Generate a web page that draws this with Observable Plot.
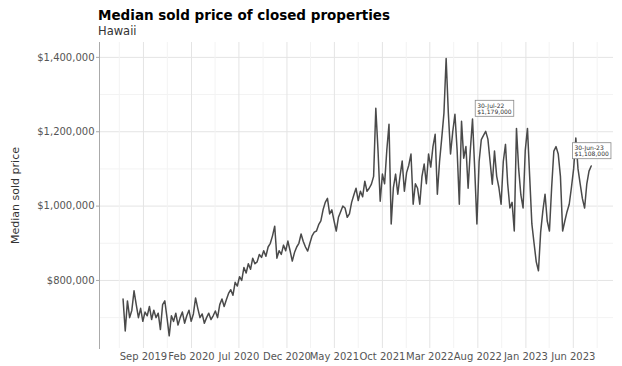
<!DOCTYPE html>
<html><head><meta charset="utf-8">
<script src="https://cdn.jsdelivr.net/npm/d3@7"></script>
<script src="https://cdn.jsdelivr.net/npm/@observablehq/plot@0.6"></script>
<style>
body{margin:0;background:#fff;font-family:"DejaVu Sans",sans-serif;}
#wrap{width:622px;}
#title{margin:0;padding:8px 0 0 98px;font-size:13.5px;font-weight:bold;line-height:15px;color:#000;}
#subtitle{padding:1px 0 0 98px;font-size:11.5px;line-height:14px;color:#333;}
#chart svg{display:block;}
</style></head><body>
<div id="wrap"><div id="title">Median sold price of closed properties</div><div id="subtitle">Hawaii</div><div id="chart"></div></div>
<script>
// Weekly median sold price (thousands of $), last week ending 2023-07-28
const endDate = "2023-07-28";
const prices = [
 750, 664, 745, 700, 720, 772, 735, 700, 725, 690,
 715, 705, 730, 695, 720, 700, 712, 668, 735, 745, 700,
 651, 705, 690, 712, 680, 700, 715, 685, 705, 720,
 690, 710, 753, 725, 700, 710, 685, 700, 712, 695,
 705, 718, 700, 735, 750, 730, 748, 765, 775, 760, 795,
 785, 810, 800, 835, 820, 845, 830, 860, 845, 850,
 870, 862, 880, 865, 890, 900, 920, 946, 860, 880,
 870, 895, 880, 906, 880, 852, 875, 890, 900, 925, 905,
 890, 879, 900, 920, 930, 933, 950, 960, 990, 1010,
 1021, 979, 990, 960, 933, 970, 985, 1000, 995, 970,
 979, 1010, 1030, 1048, 1015, 1040, 1025, 1067, 1040, 1048, 1059,
 1080, 1263, 1150, 1013, 1086, 1060, 1150, 1220, 952, 1050,
 1086, 1032, 1080, 1121, 1040, 1090, 1110, 1140, 1005, 1060,
 1048, 1005, 1080, 1113, 1060, 1140, 1105, 1160, 1193, 1032, 1120,
 1183, 1250, 1397, 1250, 1140, 1200, 1247, 1150, 1005, 1228,
 1129, 1160, 1048, 1150, 1234, 1100, 952, 1120, 1179, 1190,
 1201, 1180, 1120, 1059, 1148, 1080, 1050, 1005, 1120, 1166, 1060,
 995, 1010, 933, 1209, 1100, 1030, 995, 1150, 1209, 1080,
 952, 900, 850, 826, 930, 987, 1032, 960, 933, 1050,
 1148, 1160, 1140, 1080, 933, 960, 985, 1005, 1050, 1100, 1183,
 1100, 1059, 1020, 995, 1060, 1094, 1108
];
const xTicks = ["2019-09-01","2020-02-01","2020-07-01","2020-12-01","2021-05-01","2021-10-01","2022-03-01","2022-08-01","2023-01-01","2023-06-01"];
const xMinor = ["2019-06-16","2019-11-16","2020-04-16","2020-09-16","2021-02-14","2021-07-16","2021-12-16","2022-05-16","2022-10-16","2023-03-16","2023-08-16"];
const yTicks = [800000, 1000000, 1200000, 1400000];
const yMinor = [700000, 900000, 1100000, 1300000];
const noteDates = ["2022-07-30", "2023-06-30"];
const noteValues = [1179000, 1108000];
const noteLabels = ["30-Jul-22\n$1,179,000", "30-Jun-23\n$1,108,000"];

const end = new Date(endDate);
const data = prices.map((v, i) => ({date: d3.utcDay.offset(end, -7 * (prices.length - 1 - i)), price: v * 1000}));
const notes = noteDates.map((d, i) => ({date: new Date(d), price: noteValues[i], label: noteLabels[i]}));
const noteOffsets = [[0, -36], [-8, -20]];

const chart = Plot.plot({
  width: 622, height: 328,
  marginTop: 4, marginBottom: 18, marginLeft: 99, marginRight: 9,
  style: {fontFamily: "DejaVu Sans", fontSize: "10px", color: "#555", background: "#fff"},
  x: {type: "utc", domain: [new Date("2019-04-14"), new Date("2023-10-07")]},
  y: {domain: [617000, 1440000]},
  marks: [
    Plot.gridY(yMinor, {stroke: "#f3f3f3", strokeOpacity: 1}),
    Plot.gridY(yTicks, {stroke: "#e4e4e4", strokeOpacity: 1}),
    Plot.gridX(xMinor.map(d => new Date(d)), {stroke: "#f3f3f3", strokeOpacity: 1}),
    Plot.gridX(xTicks.map(d => new Date(d)), {stroke: "#e4e4e4", strokeOpacity: 1}),
    Plot.frame({anchor: "left", stroke: "#aaa"}),
    Plot.axisY(yTicks, {tickFormat: d3.format("$,"), tickSize: 3, tickPadding: 2, stroke: "#aaa",
      label: null}),
    Plot.axisY({label: "Median sold price", labelAnchor: "center", labelArrow: "none", labelOffset: 88,
      ticks: [], tickSize: 0, fontSize: 11, fill: "#333"}),
    Plot.axisX(xTicks.map(d => new Date(d)), {tickFormat: d3.utcFormat("%b %Y"), tickSize: 0, tickPadding: 4, label: null}),
    Plot.lineY(data, {x: "date", y: "price", stroke: "#4a4a4a", strokeWidth: 1.5}),
    ...notes.map((n, i) => Plot.text([n], {x: "date", y: "price", text: "label", textAnchor: "start", lineAnchor: "top",
      dx: noteOffsets[i][0], dy: noteOffsets[i][1], fontSize: 6, fill: "#333"}))
  ]
});
document.getElementById("chart").appendChild(chart);
const svgNS = "http://www.w3.org/2000/svg";
Array.from(chart.querySelectorAll("text"))
  .filter(t => noteLabels.some(l => t.textContent.replace(/\s/g, "") === l.replace(/\s/g, "")))
  .forEach(t => {
    const b = t.getBBox();
    const r = document.createElementNS(svgNS, "rect");
    r.setAttribute("x", b.x - 2); r.setAttribute("y", b.y - 1.5);
    r.setAttribute("width", b.width + 4); r.setAttribute("height", b.height + 3);
    r.setAttribute("fill", "#fff"); r.setAttribute("stroke", "#888"); r.setAttribute("stroke-width", "0.8");
    const tr = t.getAttribute("transform");
    if (tr) r.setAttribute("transform", tr);
    t.parentNode.insertBefore(r, t);
  });
</script>
</body></html>
